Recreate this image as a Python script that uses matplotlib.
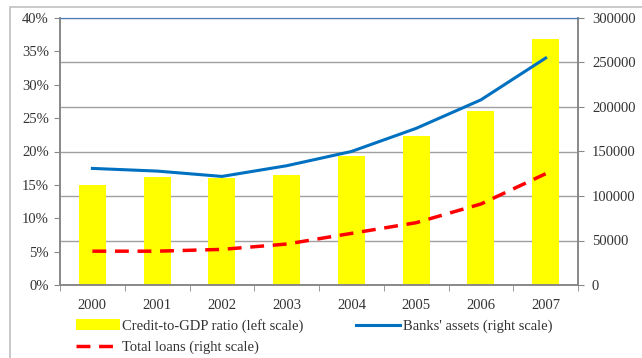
import matplotlib
matplotlib.use("Agg")
import matplotlib.pyplot as plt
from matplotlib.patches import Rectangle
from matplotlib.ticker import FuncFormatter, MultipleLocator
import numpy as np

years = ["2000", "2001", "2002", "2003", "2004", "2005", "2006", "2007"]
credit_to_gdp = [15.0, 16.2, 16.0, 16.5, 19.3, 22.3, 26.1, 36.9]
banks_assets = [131000, 128000, 122000, 134000, 150000, 176000, 208000, 255000]
total_loans = [38000, 38000, 40000, 46000, 58000, 70000, 91000, 125000]

plt.rcParams['font.family'] = ['Liberation Serif', 'DejaVu Serif']

W, H = 642, 358
fig = plt.figure(figsize=(W/100, H/100), dpi=100)
ax = fig.add_axes([60/W, 1-285/H, (578-60)/W, (285-18)/H])
ax2 = ax.twinx()

x = np.arange(len(years))
bars = ax.bar(x, credit_to_gdp, width=0.42, color='#FFFF00', zorder=2,
              label='Credit-to-GDP ratio (left scale)')
ax.set_ylim(0, 40)
ax.set_xlim(-0.5, len(years)-0.5)
ax.yaxis.set_major_locator(MultipleLocator(5))
ax.yaxis.set_major_formatter(FuncFormatter(lambda v, p: f"{int(round(v))}%"))
ax.set_xticks(x)
ax.set_xticklabels(years)
ax.set_xticks(np.arange(-0.5, len(years)), minor=True)
ax.tick_params(axis='x', which='major', length=0, pad=10, labelsize=10.5, colors='#333333')
ax.tick_params(axis='x', which='minor', length=4, color='#888888')
ax.tick_params(axis='y', length=4, color='#888888', labelsize=10.5, labelcolor='#333333', pad=4)

ax2.set_ylim(0, 300000)
ax2.yaxis.set_major_locator(MultipleLocator(50000))
ax2.yaxis.set_major_formatter(FuncFormatter(lambda v, p: f"{int(round(v))}"))
ax2.tick_params(axis='y', length=4, color='#888888', labelsize=10.5, labelcolor='#333333', pad=6)

l1, = ax2.plot(x, banks_assets, color='#0070C0', linewidth=2.2, zorder=4,
               label="Banks' assets (right scale)")
l2, = ax2.plot(x, total_loans, color='#FF0000', linewidth=2.5, linestyle=(0, (4, 2.5)),
               zorder=4, label='Total loans (right scale)')

ax.set_zorder(ax2.get_zorder() - 1)
ax.patch.set_visible(False)
ax2.patch.set_facecolor('none')
fig.patch.set_facecolor('white')
for v in np.arange(50000, 300001, 50000):
    ax.axhline(v/300000*40, color='#A0A0A0', linewidth=1.0, zorder=0)

for a in (ax, ax2):
    for s in ['left', 'right', 'bottom']:
        a.spines[s].set_color('#888888')
        a.spines[s].set_linewidth(1.2)
    a.spines['top'].set_color('#4A7EBB')
    a.spines['top'].set_linewidth(0.8)

handles = [bars, l2, l1]
fig.legend(handles=handles, labels=[h.get_label() for h in handles],
           loc='upper left', bbox_to_anchor=(70/W, 1-313/H), ncol=2, frameon=False,
           fontsize=10.5, handlelength=3.0, handletextpad=0.2, columnspacing=3.6,
           labelspacing=0.55, borderaxespad=0, labelcolor='#333333')

fig.add_artist(Rectangle((10/W, -0.1), 1.2, 1 - 7/H + 0.1, transform=fig.transFigure,
                         fill=False, edgecolor='#C0C0C0', linewidth=1.2))

fig.savefig("out.png", dpi=100)
